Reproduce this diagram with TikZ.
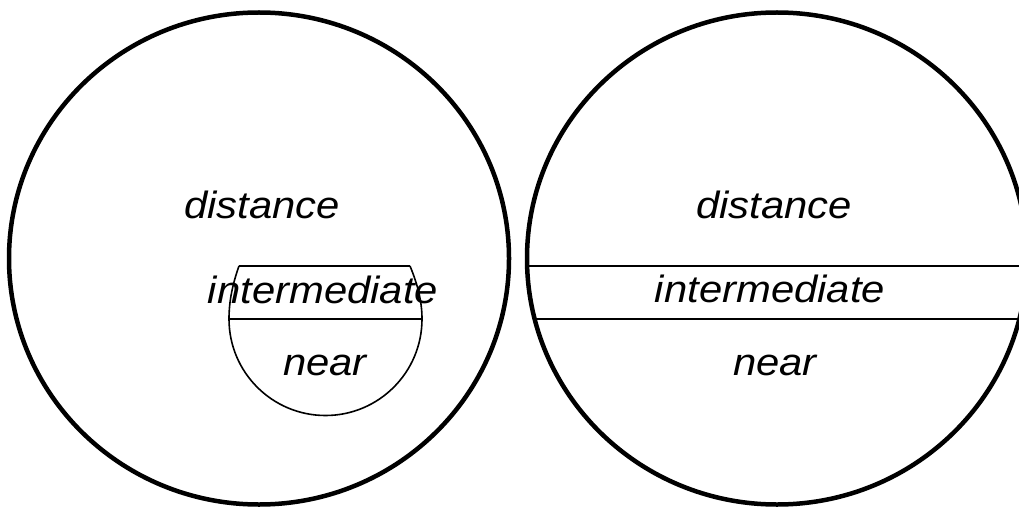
\documentclass[tikz,border=0pt]{standalone}
\usepackage{fontspec}
\newfontfamily\labelfont[FakeStretch=1.1]{Liberation Sans}
\begin{document}
\begin{tikzpicture}[x=1pt,y=-1pt,
  region/.style={line width=4.5pt},
  band/.style={line width=2pt},
  inner/.style={line width=1.6pt},
  lbl/.style={inner sep=0pt, anchor=base, font=\labelfont\itshape\fontsize{38}{40}\selectfont}]
\useasboundingbox (0,0) rectangle (1019,508);
\clip (0,0) rectangle (1019,508);

% left field: distance zone with a small near/intermediate patch
\draw[region] (259,258.5) ellipse [x radius=250, y radius=246];
\draw[band] (239,266) -- (410,266);
\draw[band] (229,319) -- (422,319);
\draw[inner] (239,266) .. controls (233,283) and (229,300) .. (229,319)
  arc [start angle=180, end angle=0, radius=96.5]
  .. controls (422,300) and (417,283) .. (410,266);
\node[lbl] (ldist) at (262,218) {distance};
\node[lbl] (linter) at (323,303) {intermediate};
\node[lbl] (lnear) at (325,375) {near};

% right field: three horizontal zones
\draw[region] (777,258.5) ellipse [x radius=250, y radius=246];
\begin{scope}
  \clip (777,258.5) ellipse [x radius=250, y radius=246];
  \draw[band] (500,266) -- (1040,266);
  \draw[band] (500,319) -- (1040,319);
\end{scope}
\node[lbl] (rdist) at (774,218) {distance};
\node[lbl] (rinter) at (770,302) {intermediate};
\node[lbl] (rnear) at (775,375) {near};
\end{tikzpicture}
\end{document}
